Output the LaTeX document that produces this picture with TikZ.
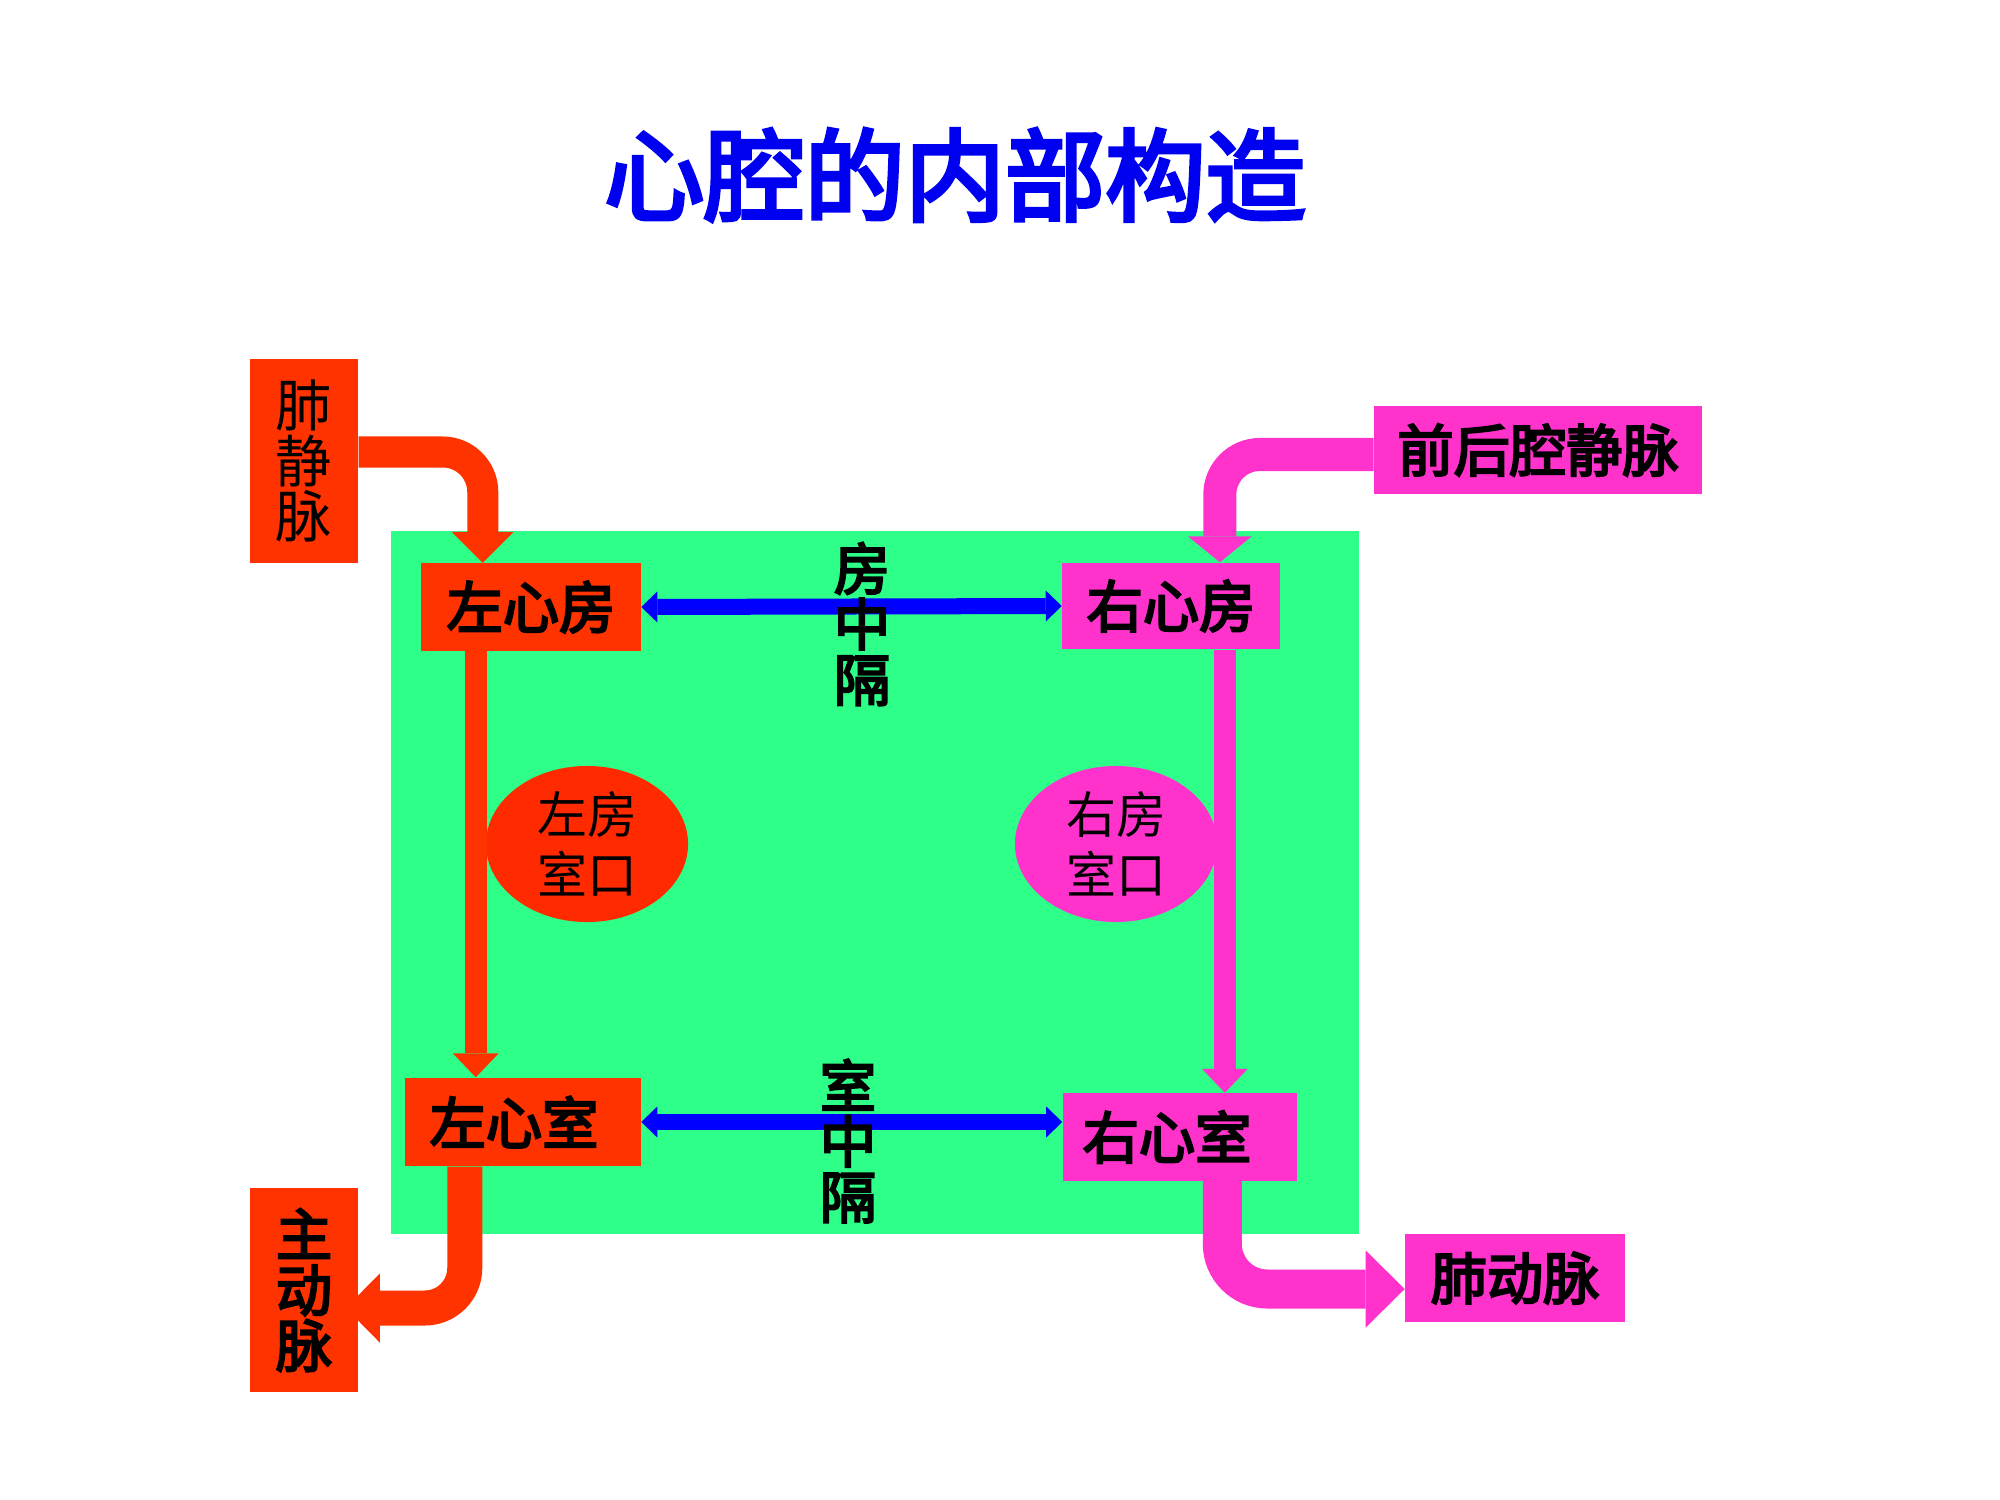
\documentclass[tikz,border=0pt]{standalone}
\usepackage{fontspec}
\setmainfont{Noto Sans CJK SC}[BoldFont={Noto Sans CJK SC},BoldFeatures={FakeBold=4}]
\usetikzlibrary{arrows.meta,shapes.geometric}
\definecolor{boxred}{HTML}{FF3300}
\definecolor{valvered}{HTML}{FF2A00}
\definecolor{boxpink}{HTML}{FF33CC}
\definecolor{heartgreen}{HTML}{2EFF88}
\definecolor{titleblue}{HTML}{0000F0}
\tikzset{red node/.style={rectangle,fill=boxred,inner sep=0pt,align=center,font=\fontsize{16}{15.8}\selectfont\bfseries},
         pink node/.style={rectangle,fill=boxpink,inner sep=0pt,align=center,font=\fontsize{16}{15.8}\selectfont\bfseries},
         valve/.style={ellipse,inner sep=0pt,minimum width=2.02cm,minimum height=1.56cm,align=center,font=\fontsize{14.2}{17}\selectfont},
         septum/.style={align=center,font=\fontsize{16}{15.8}\selectfont\bfseries},
         flow/.style n args={3}{line width=#1,rounded corners=0.4cm,-{Triangle[width=#2,length=#3,line width=0pt]}},
         sept/.style={blue,line width=0.16cm,{Triangle[width=0.31cm,length=0.16cm,line width=0pt]}-{Triangle[width=0.31cm,length=0.16cm,line width=0pt]}},
            }

\begin{document}
\begin{tikzpicture}[x=0.01cm,y=-0.01cm]
\useasboundingbox (0,0) rectangle (2000,1500);
\node[font=\fontsize{28.5}{28.5}\selectfont\bfseries,text=titleblue] (T) at (955,175) {心腔的内部构造};
\fill[heartgreen] (391,531) rectangle (1359,1234);

\node[red node,minimum width=1.08cm,minimum height=2.04cm,font=\fontsize{16}{15.8}\selectfont] (PV) at (304,461) {肺\\静\\脉};
\node[red node,minimum width=1.08cm,minimum height=2.03cm] (AO) at (304,1290) {主\\动\\脉};
\node[red node,minimum width=2.19cm,minimum height=0.87cm] (LA) at (531,607) {左心房};
\node[red node,minimum width=2.35cm,minimum height=0.88cm] (LV) at (523,1122) {左心室\hspace{0.18cm}};
\node[pink node,minimum width=2.17cm,minimum height=0.86cm] (RA) at (1171,606) {右心房};
\node[pink node,minimum width=2.34cm,minimum height=0.87cm] (RV) at (1180,1137) {右心室\hspace{0.26cm}};
\node[pink node,minimum width=3.27cm,minimum height=0.87cm] (VC) at (1538,450) {前后腔静脉};
\node[pink node,minimum width=2.19cm,minimum height=0.88cm] (PA) at (1515,1278) {肺动脉};

\node[valve,fill=valvered] (LO) at (587,844) {左房\\室口};
\node[valve,fill=boxpink] (RO) at (1116,844) {右房\\室口};

\coordinate (la out) at ([xshift=0.55cm]LA.south west);
\coordinate (ra out) at ([xshift=1.63cm]RA.south west);

\draw[boxred,flow={0.31cm}{0.62cm}{0.31cm}] ([yshift=0.09cm]PV.east) -| ([xshift=0.62cm]LA.north west);
\draw[boxred,flow={0.22cm}{0.46cm}{0.24cm}] (la out) -- (la out |- LV.north);
\draw[boxred,flow={0.35cm}{0.69cm}{0.34cm}] ([xshift=0.6cm]LV.south west) |- ([xshift=-0.13cm,yshift=-0.18cm]AO.east);
\draw[boxpink,flow={0.33cm}{0.64cm}{0.26cm}] ([yshift=-0.045cm]VC.west) -| ([xshift=1.58cm]RA.north west);
\draw[boxpink,flow={0.22cm}{0.46cm}{0.24cm}] (ra out) -- (ra out |- RV.north);
\draw[boxpink,flow={0.39cm}{0.77cm}{0.39cm},rounded corners=0.45cm] ([xshift=1.6cm]RV.south west) |- ([yshift=-0.11cm]PA.west);

\draw[sept] (LA.east) -- (RA.west);
\draw[sept] (LV.east) -- (LV.east -| RV.west);

\node[septum] (AS) at (862,624) {房\\中\\隔};
\node[septum] (VS) at (848,1141) {室\\中\\隔};
\end{tikzpicture}
\end{document}
